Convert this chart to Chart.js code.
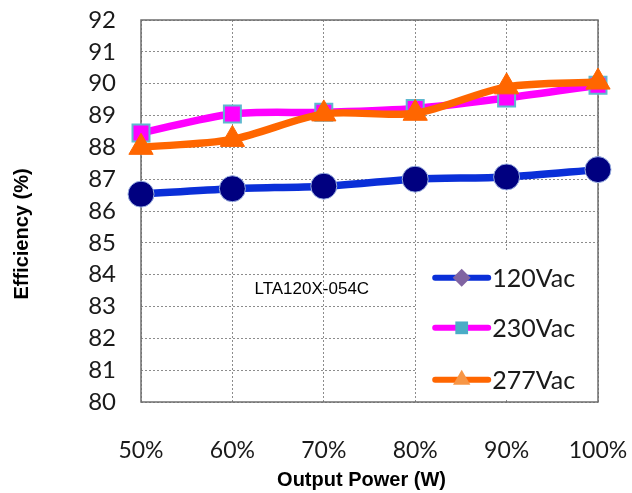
<!DOCTYPE html>
<html><head><meta charset="utf-8">
<script src="https://cdn.jsdelivr.net/npm/chart.js@4/dist/chart.umd.min.js"></script>
<style>html,body{margin:0;padding:0;background:#fff}#c{display:block}</style>
</head><body>
<canvas id="c" width="632" height="493"></canvas>
<script>
const categories = ["50%", "60%", "70%", "80%", "90%", "100%"];
const seriesNames = ["120Vac", "230Vac", "277Vac"];
const v120 = [86.53, 86.7, 86.78, 87.0, 87.07, 87.3];
const v230 = [88.45, 89.05, 89.1, 89.22, 89.55, 89.95];
const v277 = [88.0, 88.25, 89.05, 89.07, 89.9, 90.05];
const yTicks = [80, 81, 82, 83, 84, 85, 86, 87, 88, 89, 90, 91, 92];
const annotationText = "LTA120X-054C";
const xTitle = "Output Power (W)";
const yTitle = "Efficiency (%)";

const legendMarkers = [
  {style: 'rectRot', fill: '#8064a2', radius: 9},
  {style: 'rect', fill: '#4bacc6', radius: 9},
  {style: 'triangle', fill: '#f79646', radius: 10}
];

const extras = {
  id: 'extras',
  beforeDatasetsDraw(chart) {
    const a = chart.chartArea, ctx = chart.ctx;
    ctx.save();
    ctx.strokeStyle = '#6e6e6e';
    ctx.lineWidth = 1.5;
    ctx.strokeRect(a.left, a.top, a.right - a.left, a.bottom - a.top);
    ctx.restore();
  },
  afterDatasetsDraw(chart) {
    const a = chart.chartArea, ctx = chart.ctx;
    const xs = chart.scales.x, ys = chart.scales.y;
    ctx.save();
    // axis titles
    ctx.fillStyle = '#000';
    ctx.font = 'bold 20px "Liberation Sans", Arial, sans-serif';
    ctx.textAlign = 'center';
    ctx.textBaseline = 'middle';
    ctx.fillText(xTitle, (a.left + a.right) / 2 - 8, 480);
    ctx.save();
    ctx.translate(22, (a.top + a.bottom) / 2 + 23);
    ctx.rotate(-Math.PI / 2);
    ctx.fillText(yTitle, 0, 0);
    ctx.restore();
    // annotation
    ctx.font = '17px "Liberation Sans", Arial, sans-serif';
    ctx.fillText(annotationText, (xs.getPixelForValue(1) + xs.getPixelForValue(3)) / 2 - 12, ys.getPixelForValue(83.55));
    // legend
    const bx = xs.getPixelForValue(3) + 1, by = ys.getPixelForValue(84.75);
    ctx.fillStyle = '#fff';
    ctx.fillRect(bx, by, a.right - 2 - bx, a.bottom - 2 - by);
    const rows = [ys.getPixelForValue(83.9), ys.getPixelForValue(82.33), ys.getPixelForValue(80.7)];
    chart.data.datasets.forEach((ds, i) => {
      const y = rows[i];
      const x0 = bx + 19, x1 = bx + 72;
      ctx.strokeStyle = ds.borderColor;
      ctx.lineWidth = 6;
      ctx.lineCap = 'round';
      ctx.beginPath(); ctx.moveTo(x0, y); ctx.lineTo(x1, y); ctx.stroke();
      const m = legendMarkers[i];
      ctx.fillStyle = m.fill;
      ctx.strokeStyle = m.fill;
      Chart.helpers.drawPoint(ctx, {pointStyle: m.style, radius: m.radius, borderWidth: 0}, (x0 + x1) / 2, y);
      ctx.fillStyle = '#1a1a1a';
      ctx.font = '25px Lato, "Open Sans", sans-serif';
      ctx.textAlign = 'left';
      ctx.textBaseline = 'middle';
      ctx.fillText(ds.label, x1 + 4, y + 1);
    });
    ctx.restore();
  }
};

new Chart(document.getElementById('c'), {
  type: 'line',
  data: {
    labels: categories,
    datasets: [
      {label: seriesNames[0], data: v120, borderColor: '#0a2fd8', borderWidth: 7.5, tension: 0.3,
       pointStyle: 'circle', pointRadius: 13, pointBackgroundColor: '#000080', pointBorderColor: '#9bb0e0', pointBorderWidth: 1, order: 2},
      {label: seriesNames[1], data: v230, borderColor: '#ff00ff', borderWidth: 7.5, tension: 0.3,
       pointStyle: 'rect', pointRadius: 12, pointBackgroundColor: '#ff00ff', pointBorderColor: '#5fb8cf', pointBorderWidth: 2, order: 1},
      {label: seriesNames[2], data: v277, borderColor: '#ff6600', borderWidth: 7.5, tension: 0.3,
       pointStyle: 'triangle', pointRadius: 14, pointBackgroundColor: '#ff6600', pointBorderColor: '#ff6600', pointBorderWidth: 1, order: 0}
    ]
  },
  options: {
    responsive: false,
    animation: false,
    layout: {autoPadding: false, padding: {top: 20, right: 34, left: 0, bottom: 0}},
    plugins: {legend: {display: false}, tooltip: {enabled: false}},
    scales: {
      x: {
        offset: false,
        grid: {color: '#8c8c8c', drawTicks: false},
        border: {display: false, dash: [2, 2]},
        ticks: {padding: 35, color: '#1a1a1a', font: {family: 'Lato, "Open Sans", sans-serif', size: 23}, maxRotation: 0, autoSkip: false},
        title: {display: false, text: xTitle},
        afterFit(s) { s.height = 91; s.paddingLeft = 0; s.paddingRight = 0; }
      },
      y: {
        min: 80, max: 92,
        afterBuildTicks(s) { s.ticks = yTicks.map(v => ({value: v})); },
        grid: {color: '#8c8c8c', drawTicks: false},
        border: {display: false, dash: [2, 2]},
        ticks: {padding: 25, color: '#1a1a1a', autoSkip: false, font: {family: 'Lato, "Open Sans", sans-serif', size: 24}},
        title: {display: false, text: yTitle},
        afterFit(s) { s.width = 141; s.paddingTop = 0; s.paddingBottom = 0; }
      }
    }
  },
  plugins: [extras]
});
</script>
</body></html>
